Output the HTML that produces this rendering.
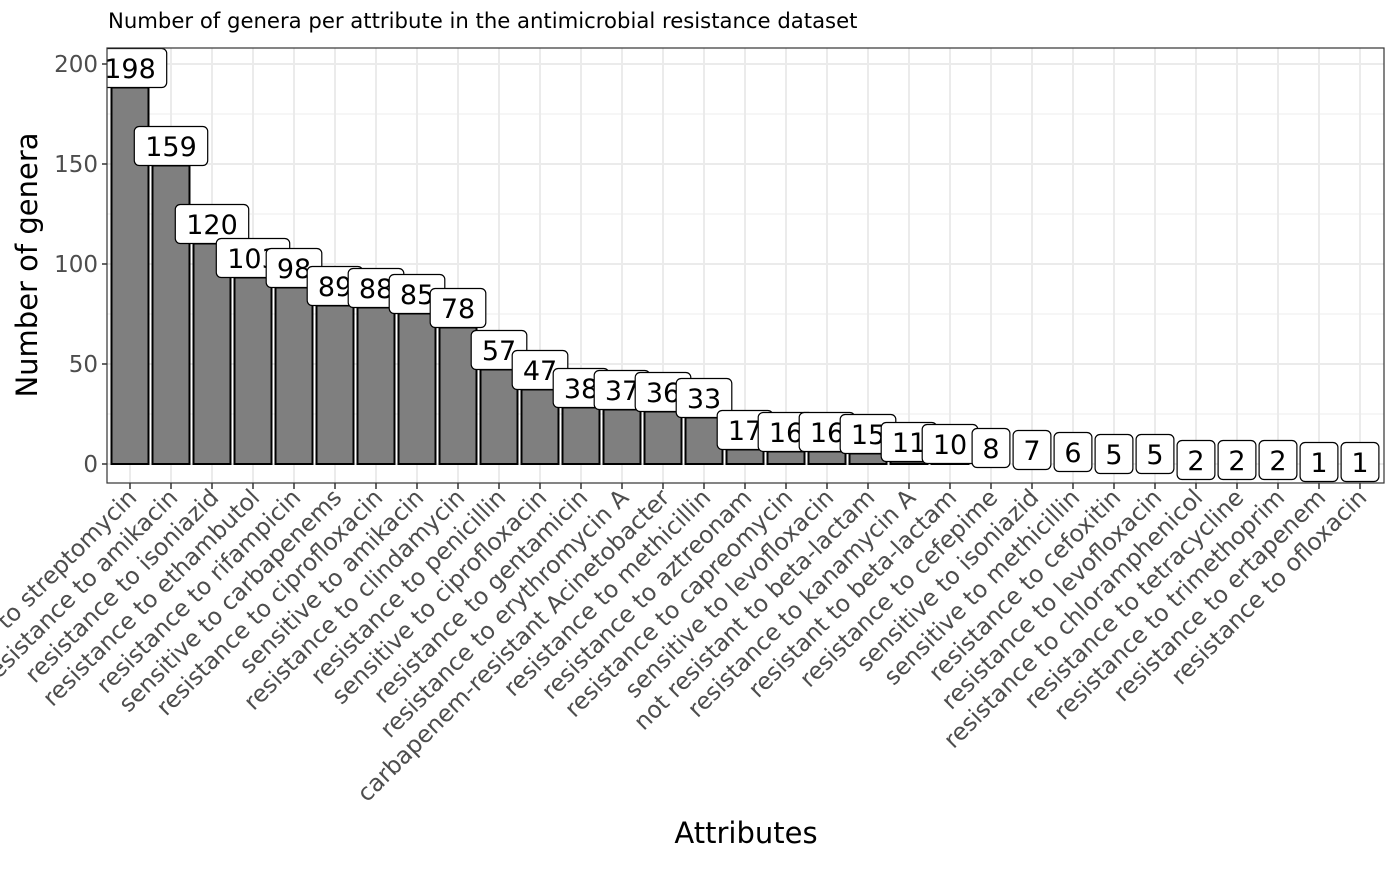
<!DOCTYPE html>
<html><head><meta charset="utf-8"><style>
body{margin:0;background:#fff}
svg text{font-family:"DejaVu Sans","Liberation Sans",sans-serif}
</style></head><body>
<svg id="chart" width="1400" height="865" viewBox="0 0 1400 865" xmlns="http://www.w3.org/2000/svg">
<defs><clipPath id="pc"><rect x="107" y="48" width="1277" height="435"/></clipPath></defs>
<rect width="1400" height="865" fill="#fff"/>
<text x="108" y="28" font-size="21.2" fill="#000">Number of genera per attribute in the antimicrobial resistance dataset</text>
<rect x="107" y="48" width="1277" height="435" fill="#fff"/>
<g id="grid"></g>
<g id="bars" clip-path="url(#pc)"></g>
<rect x="107" y="48" width="1277" height="435" fill="none" stroke="#333" stroke-width="1.2"/>
<g id="axes"></g>
<text transform="translate(37,265) rotate(-90)" text-anchor="middle" font-size="29" fill="#000">Number of genera</text>
<text x="746" y="843" text-anchor="middle" font-size="29" fill="#000">Attributes</text>
</svg>
<script>
const categories = ["resistance to streptomycin","resistance to amikacin","resistance to isoniazid","resistance to ethambutol","resistance to rifampicin","sensitive to carbapenems","resistance to ciprofloxacin","sensitive to amikacin","resistance to clindamycin","resistance to penicillin","sensitive to ciprofloxacin","resistance to gentamicin","resistance to erythromycin A","carbapenem-resistant Acinetobacter","resistance to methicillin","resistance to aztreonam","resistance to capreomycin","sensitive to levofloxacin","not resistant to beta-lactam","resistance to kanamycin A","resistant to beta-lactam","resistance to cefepime","sensitive to isoniazid","sensitive to methicillin","resistance to cefoxitin","resistance to levofloxacin","resistance to chloramphenicol","resistance to tetracycline","resistance to trimethoprim","resistance to ertapenem","resistance to ofloxacin"];
const counts = [198,159,120,103,98,89,88,85,78,57,47,38,37,36,33,17,16,16,15,11,10,8,7,6,5,5,2,2,2,1,1];
const yTicks = [0,50,100,150,200];
const NS="http://www.w3.org/2000/svg";
const x0=130, step=41, bw=37, pLeft=107, pRight=1384, pTop=48, pBottom=483;
const xPos = i => x0 + step*i;
const yPos = v => 464 - 2*v;
function mk(tag, attrs, parent){const e=document.createElementNS(NS,tag);for(const k in attrs)e.setAttribute(k,attrs[k]);parent.appendChild(e);return e;}
const gridG=document.getElementById('grid'), barsG=document.getElementById('bars'), axesG=document.getElementById('axes');
for(let k=0;k<yTicks.length-1;k++){const v=(yTicks[k]+yTicks[k+1])/2;
 const l=mk('line',{x1:pLeft,x2:pRight,y1:yPos(v),y2:yPos(v),stroke:'#f0f0f0','stroke-width':1.2},gridG);
 
 }
yTicks.forEach(v=>{
 const l=mk('line',{x1:pLeft,x2:pRight,y1:yPos(v),y2:yPos(v),stroke:'#ebebeb','stroke-width':2},gridG);
 
 
 const t=mk('line',{x1:102,x2:107,y1:yPos(v),y2:yPos(v),stroke:'#333','stroke-width':1.5},axesG);
 
 
 const tx=mk('text',{x:98,y:yPos(v)+8,'text-anchor':'end','font-size':23,fill:'#4d4d4d'},axesG);
 tx.textContent=v;
 
 
});
categories.forEach((c,i)=>{
 const x=xPos(i);
 const g=mk('line',{x1:x,x2:x,y1:pTop,y2:pBottom,stroke:'#ebebeb','stroke-width':2},gridG);
 
 
 const t=mk('line',{x1:x,x2:x,y1:pBottom,y2:pBottom+6,stroke:'#333','stroke-width':1.5},axesG);
 
 
 const tx=mk('text',{transform:`translate(${x+8},${pBottom+16}) rotate(-45)`,'text-anchor':'end','font-size':23.5,fill:'#4d4d4d'},axesG);
 tx.textContent=c;
 
 
});
const boxH=39;
counts.forEach((v,i)=>{
 const x=xPos(i);
 const yt=Math.min(yPos(v)+boxH/2, yPos(0));
 const r=mk('rect',{x:x-bw/2,y:yt,width:bw,height:yPos(0)-yt,fill:'#7f7f7f',stroke:'#000','stroke-width':2},barsG);
 
 
});
counts.forEach((v,i)=>{
 const x=xPos(i), s=String(v), w=s.length*17.8+20;
 const b=mk('rect',{x:x-w/2,y:yPos(v)-boxH/2,width:w,height:boxH,rx:5,fill:'#fff',stroke:'#000','stroke-width':1.2},barsG);
 
 
 const t=mk('text',{x:x,y:yPos(v)+10,'text-anchor':'middle','font-size':27,fill:'#000'},barsG);
 t.textContent=s;
 
 
});
</script>
</body></html>
